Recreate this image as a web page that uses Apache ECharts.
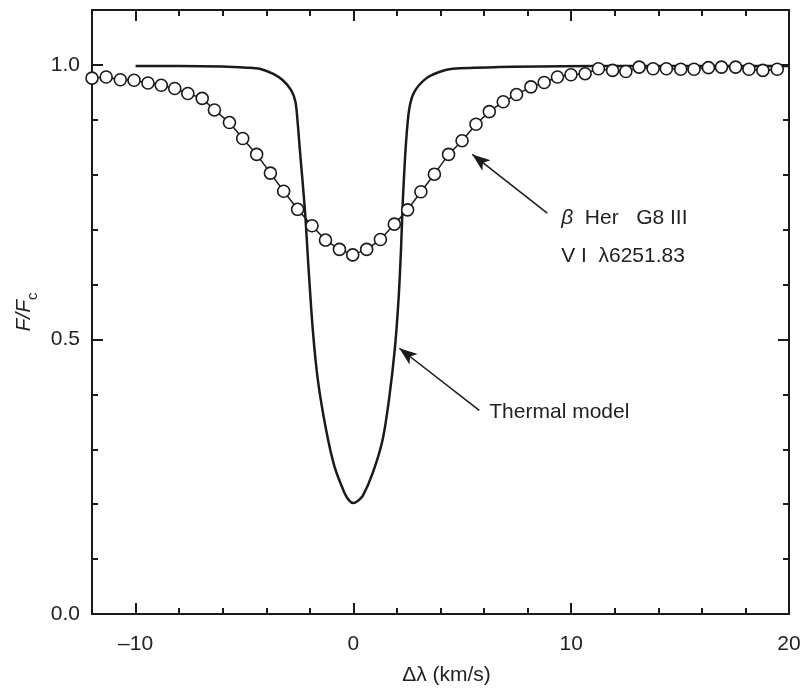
<!DOCTYPE html>
<html>
<head>
<meta charset="utf-8">
<title>F/Fc line profile</title>
<script src="https://cdn.jsdelivr.net/npm/echarts@6/dist/echarts.min.js"></script>
<style>
	html, body { margin: 0; padding: 0; background: #fff; }
	#main { width: 806px; height: 691px; }
</style>
</head>
<body>
<div id="main"></div>
<script>
	// thermal model (solid line)
	var thermX = [-10, -8, -6, -4.9, -4.3, -3.7, -3.24, -2.86, -2.66, -2.55, -2.45, -2.32, -2.2, -2.07, -1.86, -1.63, -1.25, -0.87, -0.41, -0.2, 0,
		0.2, 0.43, 0.89, 1.34, 1.65, 1.91, 2.08, 2.19, 2.27, 2.42, 2.57, 2.8, 3.33, 3.94, 4.56, 6.7, 11, 15, 20];
	var thermY = [0.998, 0.998, 0.997, 0.995, 0.993, 0.984, 0.972, 0.954, 0.933, 0.891, 0.842, 0.782, 0.722, 0.637, 0.516, 0.426, 0.335, 0.269, 0.221, 0.207, 0.202,
		0.206, 0.215, 0.257, 0.317, 0.395, 0.486, 0.577, 0.667, 0.752, 0.86, 0.921, 0.951, 0.975, 0.987, 0.993, 0.996, 0.998, 0.998, 0.998];

	// beta Her observed profile (open circles)
	var obsX = [-12.0, -11.35, -10.7, -10.07, -9.43, -8.82, -8.2, -7.6, -6.94, -6.38, -5.69, -5.08, -4.44, -3.81, -3.2, -2.56, -1.9, -1.28, -0.64, -0.03,
		0.61, 1.24, 1.88, 2.49, 3.1, 3.72, 4.37, 4.99, 5.63, 6.24, 6.88, 7.49, 8.15, 8.76, 9.37, 9.99, 10.64, 11.25, 11.9, 12.51,
		13.12, 13.76, 14.37, 15.03, 15.64, 16.3, 16.9, 17.55, 18.16, 18.8, 19.46];
	var obsY = [0.976, 0.978, 0.973, 0.972, 0.967, 0.963, 0.957, 0.948, 0.939, 0.918, 0.895, 0.866, 0.837, 0.803, 0.770, 0.737, 0.707, 0.681, 0.664, 0.654,
		0.664, 0.682, 0.710, 0.736, 0.769, 0.801, 0.837, 0.862, 0.892, 0.915, 0.933, 0.946, 0.960, 0.968, 0.978, 0.982, 0.984, 0.993, 0.990, 0.988,
		0.996, 0.993, 0.993, 0.992, 0.992, 0.995, 0.996, 0.996, 0.992, 0.990, 0.992];

	// ticks
	var xMajor = [-10, 0, 10, 20];
	var xMinor = [-8, -6, -4, -2, 2, 4, 6, 8, 12, 14, 16, 18];
	var yMajor = [0, 0.5, 1.0];
	var yMinor = [0.1, 0.2, 0.3, 0.4, 0.6, 0.7, 0.8, 0.9];

	var font = "'Liberation Sans', Arial, sans-serif";
	var ink = '#1a1a1a';

	function pairs(xs, ys) {
		var out = [];
		for(var i = 0; i < xs.length; i++) {
			out.push([xs[i], ys[i]]);
		}
		return out;
	}

	function axis(pos, min, max, ticks, len, withLine, withLabel) {
		var a = {
			type: 'value',
			position: pos,
			min: min,
			max: max,
			splitLine: { show: false },
			axisLine: { show: withLine, onZero: false, lineStyle: { color: ink, width: 2 } },
			axisTick: { show: true, inside: true, length: len, customValues: ticks, lineStyle: { color: ink, width: 2 } },
			axisLabel: { show: withLabel }
		};
		if(withLabel) {
			a.axisLabel = {
				show: true,
				customValues: ticks,
				fontFamily: font,
				fontSize: 21,
				color: '#222',
				margin: pos == 'bottom' ? 20 : 12,
				formatter: function(v) {
					if(pos == 'left') return v.toFixed(1);
					return String(v).replace('-', '\u2013');
				}
			};
		}
		return a;
	}

	var xb = axis('bottom', -12, 20, xMajor, 11, true, true);
	xb.name = 'Δλ (km/s)';
	xb.nameLocation = 'middle';
	xb.nameGap = 51;
	xb.nameTextStyle = { fontFamily: font, fontSize: 21, color: '#222', padding: [0, 0, 0, 12] };

	var yl = axis('left', 0, 1.1, yMajor, 11, true, true);
	yl.name = '{i|F/F}{s|c}';
	yl.nameLocation = 'middle';
	yl.nameRotate = 90;
	yl.nameGap = 48;
	yl.nameTextStyle = {
		color: '#222',
		rich: {
			i: { fontFamily: font, fontSize: 21, fontStyle: 'italic', color: '#222', lineHeight: 24, verticalAlign: 'middle' },
			s: { fontFamily: font, fontSize: 15, color: '#222', lineHeight: 15, verticalAlign: 'bottom', padding: [0, 0, -4, 0] }
		}
	};

	var chart = echarts.init(document.getElementById('main'));

	var option = {
		backgroundColor: '#fff',
		animation: false,
		grid: { left: 92, right: 17, top: 10, bottom: 76 },
		xAxis: [
			xb,
			axis('bottom', -12, 20, xMinor, 6, false, false),
			axis('top', -12, 20, xMajor, 11, true, false),
			axis('top', -12, 20, xMinor, 6, false, false)
		],
		yAxis: [
			yl,
			axis('left', 0, 1.1, yMinor, 6, false, false),
			axis('right', 0, 1.1, yMajor, 11, true, false),
			axis('right', 0, 1.1, yMinor, 6, false, false)
		],
		series: [{
			name: 'Thermal model',
			type: 'line',
			xAxisIndex: 0,
			yAxisIndex: 0,
			data: pairs(thermX, thermY),
			showSymbol: false,
			smooth: 0.3,
			lineStyle: { color: ink, width: 2.5 },
			markLine: {
				silent: true,
				symbol: ['none', 'arrow'],
				symbolSize: [10, 18],
				label: { show: false },
				lineStyle: { color: ink, width: 1.5, type: 'solid' },
				data: [
					[{ coord: [8.9, 0.73] }, { coord: [5.46, 0.837] }],
					[{ coord: [5.78, 0.371] }, { coord: [2.11, 0.484] }]
				]
			}
		}, {
			name: 'β Her',
			type: 'line',
			xAxisIndex: 0,
			yAxisIndex: 0,
			data: pairs(obsX, obsY),
			symbol: 'circle',
			symbolSize: 12,
			showAllSymbol: true,
			clip: false,
			lineStyle: { color: ink, width: 1.5 },
			itemStyle: { color: '#fff', borderColor: ink, borderWidth: 1.6 }
		}]
	};

	chart.setOption(option);

	// annotation texts, placed in data coordinates
	function note(x, y, txt) {
		var p = chart.convertToPixel({ xAxisIndex: 0, yAxisIndex: 0 }, [x, y]);
		return {
			type: 'text',
			x: p[0],
			y: p[1],
			style: {
				text: txt,
				fontFamily: font,
				fontSize: 21,
				fill: '#222',
				verticalAlign: 'middle',
				rich: {
					g: { fontFamily: font, fontSize: 21, fontStyle: 'italic', fill: '#222' }
				}
			}
		};
	}

	chart.setOption({
		graphic: [
			note(9.54, 0.721, '{g|β}  Her   G8 III'),
			note(9.54, 0.652, 'V I  λ6251.83'),
			note(6.24, 0.368, 'Thermal model')
		]
	});
</script>
</body>
</html>
